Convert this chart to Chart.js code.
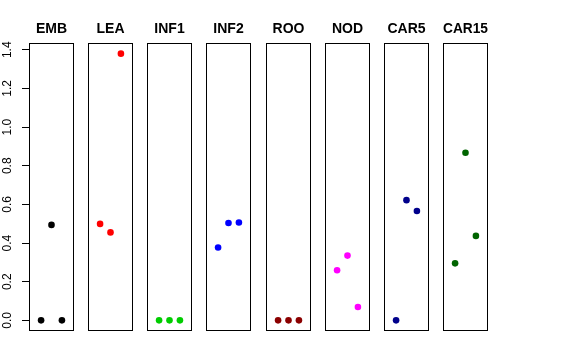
<!DOCTYPE html>
<html>
<head>
<meta charset="utf-8">
<script src="https://cdn.jsdelivr.net/npm/chart.js@4"></script>
<style>
  body { margin: 0; background: #fff; }
  #wrap { position: relative; width: 576px; height: 360px; }
  #wrap canvas { position: absolute; top: 0; }
</style>
</head>
<body>
<div id="wrap"></div>
<script>
// 패널 이름과 색
const tissues = ['EMB', 'LEA', 'INF1', 'INF2', 'ROO', 'NOD', 'CAR5', 'CAR15'];
const tissueColors = ['#000000', '#FF0000', '#00CD00', '#0000FF', '#8B0000', '#FF00FF', '#00008B', '#006400'];

// 반복 위치 (패널 안의 x)
const replicates = [1, 2, 3];

// 조직별 값
const emb = [0, 0.494, 0];
const lea = [0.499, 0.455, 1.38];
const inf1 = [0, 0, 0];
const inf2 = [0.377, 0.504, 0.506];
const roo = [0, 0, 0];
const nod = [0.259, 0.335, 0.069];
const car5 = [0, 0.622, 0.566];
const car15 = [0.295, 0.867, 0.437];
const tissueValues = [emb, lea, inf1, inf2, roo, nod, car5, car15];

// y축 눈금
const yTicks = [0, 0.2, 0.4, 0.6, 0.8, 1.0, 1.2, 1.4];

// 레이아웃 값
const FIRST_LEFT = 29;
const PITCH = 59.15;
const PANEL_W = 45;
const SIDE = 7;
const CANVAS_H = 360;

Chart.defaults.font.family = "'Liberation Sans', Arial, sans-serif";
Chart.defaults.color = '#000';

// 패널 테두리
const panelBox = {
  id: 'panelBox',
  afterDraw(chart) {
    const { ctx, chartArea: a } = chart;
    ctx.save();
    ctx.strokeStyle = '#000';
    ctx.lineWidth = 1;
    ctx.strokeRect(a.left + 0.5, a.top + 0.5, a.right - a.left - 1, a.bottom - a.top - 1);
    ctx.restore();
  }
};

const wrap = document.getElementById('wrap');

tissues.forEach((name, i) => {
  const first = i === 0;
  const panelLeft = Math.round(FIRST_LEFT + PITCH * i);
  // 첫 패널은 좌우 대칭으로 잡아서 제목이 패널 가운데 오도록
  const side = first ? FIRST_LEFT : SIDE;
  const canvasLeft = panelLeft - side;
  const canvasW = PANEL_W + 2 * side;

  const canvas = document.createElement('canvas');
  canvas.width = canvasW;
  canvas.height = CANVAS_H;
  canvas.style.left = canvasLeft + 'px';
  canvas.style.width = canvasW + 'px';
  canvas.style.height = CANVAS_H + 'px';
  wrap.appendChild(canvas);

  const scales = {
    x: {
      type: 'linear',
      display: false,
      min: -0.16,
      max: 4.16
    },
    y: {
      type: 'linear',
      display: first,
      min: -0.055,
      max: 1.435,
      afterBuildTicks: s => { s.ticks = yTicks.map(v => ({ value: v })); },
      afterFit: s => { if (first) s.width = FIRST_LEFT; },
      border: { display: false },
      grid: {
        drawOnChartArea: false,
        drawTicks: true,
        tickLength: 7,
        color: '#000',
        lineWidth: 1
      },
      ticks: {
        minRotation: 90,
        maxRotation: 90,
        crossAlign: 'center',
        padding: 6,
        font: { size: 12 },
        color: '#000',
        callback: v => Number(v).toFixed(1)
      }
    }
  };

  if (first) {
    // 오른쪽 빈 축 (여백용)
    scales.yRight = {
      type: 'linear',
      position: 'right',
      display: true,
      grid: { display: false },
      border: { display: false },
      ticks: { display: false },
      afterFit: s => { s.width = FIRST_LEFT; }
    };
  }

  new Chart(canvas.getContext('2d'), {
    type: 'scatter',
    data: {
      datasets: [{
        data: replicates.map((x, k) => ({ x: x, y: tissueValues[i][k] })),
        backgroundColor: tissueColors[i],
        borderWidth: 0,
        pointRadius: 3.3,
        pointHoverRadius: 3.3
      }]
    },
    options: {
      responsive: false,
      animation: false,
      devicePixelRatio: 1,
      events: [],
      layout: {
        padding: { left: first ? 0 : SIDE, right: first ? 0 : SIDE, top: 0, bottom: 29 }
      },
      scales: scales,
      plugins: {
        legend: { display: false },
        tooltip: { enabled: false },
        title: {
          display: true,
          text: name,
          color: '#000',
          font: { size: 14, weight: 'bold' },
          padding: { top: 20.6, bottom: 5.6 }
        }
      }
    },
    plugins: [panelBox]
  });
});
</script>
</body>
</html>
